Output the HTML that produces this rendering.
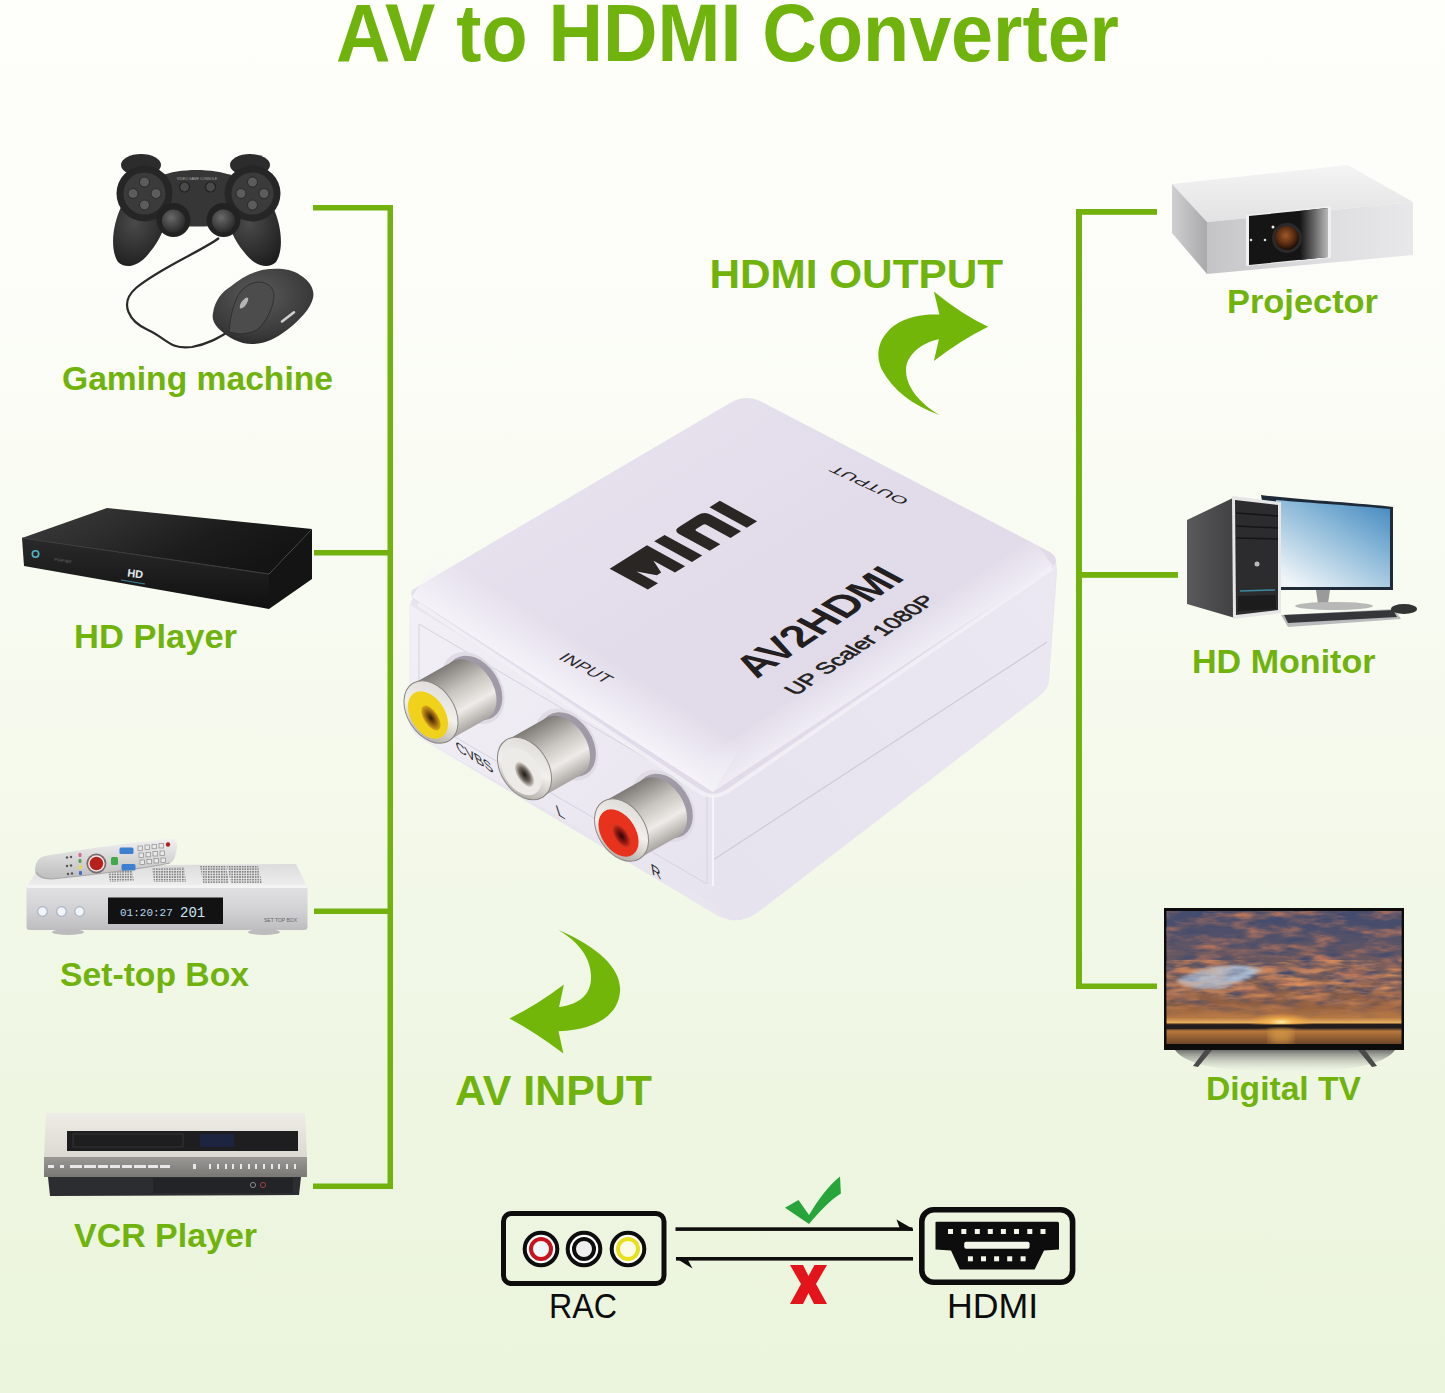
<!DOCTYPE html>
<html><head><meta charset="utf-8">
<style>
html,body{margin:0;padding:0;width:1445px;height:1393px;overflow:hidden;}
body{background:linear-gradient(to bottom,#fefffb 0px,#fcfdf8 300px,#f6faee 700px,#eef6e2 1100px,#ebf4dc 1393px);font-family:"Liberation Sans",sans-serif;}
svg{position:absolute;left:0;top:0;}
</style></head><body>
<svg width="1445" height="1393" viewBox="0 0 1445 1393">
<g id="brackets" fill="#73b20e">
  <rect x="313" y="205" width="80" height="5.5"/>
  <rect x="387.5" y="205" width="5.5" height="984"/>
  <rect x="314" y="550" width="79" height="5.5"/>
  <rect x="314" y="908.5" width="79" height="5.5"/>
  <rect x="313" y="1183.5" width="80" height="5.5"/>
  <rect x="1076" y="209" width="81" height="5.8"/>
  <rect x="1076" y="209" width="6" height="780"/>
  <rect x="1076" y="572" width="102" height="5.8"/>
  <rect x="1076" y="983.5" width="81" height="5.5"/>
</g>
<g id="labels" font-family="Liberation Sans" font-weight="bold" fill="#6fb30c">
  <text x="336" y="60.5" font-size="81" textLength="783" lengthAdjust="spacingAndGlyphs">AV to HDMI Converter</text>
  <text x="62" y="390" font-size="32.5" textLength="271" lengthAdjust="spacingAndGlyphs">Gaming machine</text>
  <text x="74" y="648" font-size="33" textLength="163" lengthAdjust="spacingAndGlyphs">HD Player</text>
  <text x="60" y="986" font-size="33" textLength="189" lengthAdjust="spacingAndGlyphs">Set-top Box</text>
  <text x="74" y="1246.5" font-size="33" textLength="183" lengthAdjust="spacingAndGlyphs">VCR Player</text>
  <text x="1227" y="313" font-size="32.5" textLength="151" lengthAdjust="spacingAndGlyphs">Projector</text>
  <text x="1192" y="672.5" font-size="33" textLength="183.5" lengthAdjust="spacingAndGlyphs">HD Monitor</text>
  <text x="1206" y="1099.5" font-size="33" textLength="155" lengthAdjust="spacingAndGlyphs">Digital TV</text>
  <text x="709.5" y="287.6" font-size="41" textLength="293.5" lengthAdjust="spacingAndGlyphs">HDMI OUTPUT</text>
  <text x="455" y="1105" font-size="42" textLength="197" lengthAdjust="spacingAndGlyphs">AV INPUT</text>
</g>

<g id="gamepad">
  <defs>
    <radialGradient id="gpGrip" cx="0.4" cy="0.3" r="0.8"><stop offset="0" stop-color="#4a4a4a"/><stop offset="1" stop-color="#1c1c1c"/></radialGradient>
    <radialGradient id="stick" cx="0.4" cy="0.35" r="0.7"><stop offset="0" stop-color="#6a6a6a"/><stop offset="1" stop-color="#262626"/></radialGradient>
  </defs>
  <!-- cable -->
  <path d="M219 238 C200 252 160 268 136 288 C118 304 130 322 148 330 C166 338 170 350 192 347 C208 344 218 338 228 332" fill="none" stroke="#2a2a2a" stroke-width="2.2"/>
  <!-- shoulders -->
  <ellipse cx="141" cy="165" rx="20" ry="11" fill="#2c2c2c"/>
  <ellipse cx="250" cy="165" rx="20" ry="11" fill="#2c2c2c"/>
  <!-- grips -->
  <path d="M122 205 C112 225 110 250 118 262 C126 270 140 266 150 252 C160 240 166 226 166 215 Z" fill="url(#gpGrip)"/>
  <path d="M272 205 C282 225 284 250 276 262 C268 270 254 266 244 252 C234 240 228 226 228 215 Z" fill="url(#gpGrip)"/>
  <!-- bridge -->
  <path d="M160 176 C180 168 212 168 234 176 L236 222 C222 228 172 228 158 222 Z" fill="#363636"/>
  <!-- clusters -->
  <circle cx="144.5" cy="193.5" r="28" fill="#262626"/>
  <circle cx="144.5" cy="193.5" r="21" fill="#3b3b3b"/>
  <circle cx="252.5" cy="193.5" r="28" fill="#262626"/>
  <circle cx="252.5" cy="193.5" r="21" fill="#3b3b3b"/>
  <g fill="#5c5c5c" stroke="#2a2a2a" stroke-width="1">
    <circle cx="144.5" cy="182" r="5"/><circle cx="144.5" cy="205" r="5"/><circle cx="133" cy="193.5" r="5"/><circle cx="156" cy="193.5" r="5"/>
    <circle cx="252.5" cy="182" r="5"/><circle cx="252.5" cy="205" r="5"/><circle cx="241" cy="193.5" r="5"/><circle cx="264" cy="193.5" r="5"/>
  </g>
  <g fill="#4a4a4a" stroke="#222" stroke-width="1.2"><circle cx="184.5" cy="187" r="5"/><circle cx="210.5" cy="187" r="5"/></g>
  <text x="197" y="180" font-size="3.5" fill="#aaa" text-anchor="middle" font-family="Liberation Sans">VIDEO GAME CONSOLE</text>
  <!-- sticks -->
  <circle cx="173.5" cy="220" r="17" fill="#222"/>
  <circle cx="173.5" cy="221" r="11.5" fill="url(#stick)"/>
  <circle cx="223.5" cy="220" r="17" fill="#222"/>
  <circle cx="223.5" cy="221" r="11.5" fill="url(#stick)"/>
  <!-- mouse -->
  <defs><radialGradient id="mouseG" cx="0.45" cy="0.35" r="0.75"><stop offset="0" stop-color="#5a5a5a"/><stop offset="0.7" stop-color="#3a3a3a"/><stop offset="1" stop-color="#222"/></radialGradient></defs>
  <path d="M213 313 C215 300 222 292 230 287 C240 279 250 273 262 270 C275 268 290 268 300 275 C310 281 315 290 313 298 C311 308 300 320 287 330 C275 339 265 344 252 344 C240 344 228 338 218 328 C213 322 212 318 213 313 Z" fill="url(#mouseG)"/>
  <path d="M229 332 C230 318 234 298 242 290 C248 284 254 282 260 282 C268 283 274 288 274 295 C274 305 268 318 261 326 C256 332 250 333 240 334 Z" fill="#4c4c4c" stroke="#2a2a2a" stroke-width="0.8"/>
  <ellipse cx="244" cy="303" rx="2.6" ry="6.5" transform="rotate(35 244 303)" fill="#b4b4b4"/>
  <path d="M282 321.5 L294 312.3" stroke="#d0d0d0" stroke-width="2.6" stroke-linecap="round"/>
</g>


<g id="hdplayer">
  <defs>
    <linearGradient id="hdTop" x1="0" y1="0" x2="1" y2="0.4"><stop offset="0" stop-color="#3c3c3c"/><stop offset="0.35" stop-color="#2e2e2e"/><stop offset="0.7" stop-color="#1c1c1c"/><stop offset="1" stop-color="#141414"/></linearGradient>
    <linearGradient id="hdFront" x1="0" y1="0" x2="0" y2="1"><stop offset="0" stop-color="#2a2a2a"/><stop offset="1" stop-color="#101010"/></linearGradient>
  </defs>
  <path d="M107 508 L312 529 L269 574 L22 538 Z" fill="url(#hdTop)"/>
  <path d="M22 538 L269 574 L269 609 L24 566 Z" fill="url(#hdFront)"/>
  <path d="M312 529 L312 579 L269 609 L269 574 Z" fill="#141414"/>
  <path d="M22 538 L269 574" stroke="#3a3a3a" stroke-width="1.2"/>
  <circle cx="35.5" cy="554" r="3.2" fill="none" stroke="#4fb8c8" stroke-width="1.6"/>
  <text x="127" y="576.5" font-size="11" font-weight="bold" fill="#e4ecee" font-family="Liberation Sans" transform="rotate(7 127 576)">HD</text>
  <path d="M121 580 L145 584" stroke="#3fa0b8" stroke-width="1.2" opacity="0.8"/>
  <text x="54" y="561" font-size="4.5" fill="#666" font-family="Liberation Sans" transform="rotate(8 54 561)">PIRPIEX</text>
</g>
<g id="settop">
  <defs>
    <linearGradient id="stFront" x1="0" y1="0" x2="0" y2="1"><stop offset="0" stop-color="#e2e2e4"/><stop offset="0.55" stop-color="#d2d2d4"/><stop offset="1" stop-color="#bdbdbf"/></linearGradient>
    <linearGradient id="stTop" x1="0" y1="0" x2="0" y2="1"><stop offset="0" stop-color="#dcdcdc"/><stop offset="1" stop-color="#eeeeee"/></linearGradient>
    <linearGradient id="remote" x1="0" y1="0" x2="0" y2="1"><stop offset="0" stop-color="#f0f0f0"/><stop offset="1" stop-color="#bdbdbd"/></linearGradient>
  </defs>
  <path d="M40 866 L296 864 L307 886 L27 886 Z" fill="url(#stTop)"/>
  <rect x="26.5" y="885" width="281" height="45" rx="3" fill="url(#stFront)"/>
  <rect x="26.5" y="885" width="281" height="3" fill="#f4f4f4"/>
  <ellipse cx="68" cy="932" rx="16" ry="3" fill="#bcbcbc"/>
  <ellipse cx="264" cy="932" rx="16" ry="3" fill="#bcbcbc"/>
  <rect x="108" y="897.5" width="115" height="26.5" fill="#121212"/>
  <text x="120" y="915.5" font-size="11" fill="#b9d8ef" font-family="Liberation Mono">01:20:27</text>
  <text x="180" y="917" font-size="14" fill="#cfe6f6" font-family="Liberation Mono">201</text>
  <g fill="#f2f4f8" stroke="#a8b4c4" stroke-width="1.2"><circle cx="42.5" cy="911.5" r="4.8"/><circle cx="61.5" cy="911.5" r="4.8"/><circle cx="79.5" cy="911.5" r="4.8"/></g>
  <text x="264" y="922" font-size="5" fill="#666" font-family="Liberation Sans">SET TOP BOX</text>
  <defs><pattern id="vent" width="2.6" height="2.6" patternUnits="userSpaceOnUse"><rect width="1.6" height="1.6" fill="#7a7a7a"/></pattern></defs>
  <path d="M108 871 L132 870 L134 881 L110 882 Z" fill="url(#vent)"/>
  <path d="M152 868 L184 867 L186 882 L154 882 Z" fill="url(#vent)"/>
  <path d="M200 866 L226 866 L229 883 L203 883 Z" fill="url(#vent)"/>
  <path d="M227 866 L258 866 L262 883 L231 883 Z" fill="url(#vent)"/>
  <path d="M35 869 C36 860 40 857 45 856 C80 850 130 842 172 839 C178 839 178 846 176 852 C175 858 174 861 170 863 C140 869 100 874 52 879 C40 880 35 876 35 869 Z" fill="url(#remote)"/>
  <path d="M36 872 C40 878 46 879 52 879 C100 874 140 869 170 863" fill="none" stroke="#a8a8a8" stroke-width="1.2"/>
  <circle cx="96.4" cy="863.5" r="10" fill="#7a6a6a"/>
  <circle cx="96.4" cy="863.5" r="8.3" fill="#f4e8e8"/>
  <circle cx="96.4" cy="863.5" r="6.8" fill="#b8201c"/>
  <rect x="111" y="857" width="7" height="8" rx="1.5" fill="#3faa4a"/>
  <rect x="119.5" y="847.5" width="14" height="6.5" rx="1.5" fill="#3f7fd0"/>
  <rect x="121.5" y="864" width="14" height="6.5" rx="1.5" fill="#3f7fd0"/>
  <g fill="#e8e8e8" stroke="#8a8a8a" stroke-width="0.7">
    <rect x="138" y="846" width="4.5" height="4.5"/><rect x="145" y="845" width="4.5" height="4.5"/><rect x="152" y="844.3" width="4.5" height="4.5"/><rect x="159" y="843.5" width="4.5" height="4.5"/>
    <rect x="139" y="853" width="4.5" height="4.5"/><rect x="146" y="852.3" width="4.5" height="4.5"/><rect x="153" y="851.5" width="4.5" height="4.5"/><rect x="160" y="851" width="4.5" height="4.5"/>
    <rect x="140" y="860" width="4.5" height="4.5"/><rect x="147" y="859.3" width="4.5" height="4.5"/><rect x="154" y="858.5" width="4.5" height="4.5"/><rect x="161" y="858" width="4.5" height="4.5"/>
  </g>
  <circle cx="168" cy="844.5" r="2.2" fill="#b02020"/>
  <g fill="#555"><circle cx="67" cy="857.5" r="1.2"/><circle cx="71" cy="857" r="1.2"/><circle cx="67" cy="866" r="1.2"/><circle cx="71" cy="865.5" r="1.2"/><circle cx="68" cy="874" r="1.2"/><circle cx="72" cy="873.5" r="1.2"/></g>
  <rect x="78.5" y="853" width="3" height="4" rx="1" fill="#d86a8a"/><rect x="78.5" y="859" width="3" height="4" rx="1" fill="#5aa05a"/><rect x="79" y="865" width="3" height="4" rx="1" fill="#e8d84a"/><rect x="79" y="871" width="3" height="4" rx="1" fill="#4a6ac0"/>
</g>
<g id="vcr">
  <defs>
    <linearGradient id="vcrTop" x1="0" y1="0" x2="0" y2="1"><stop offset="0" stop-color="#eeece6"/><stop offset="1" stop-color="#dcd9d2"/></linearGradient>
    <linearGradient id="vcrPanel" x1="0" y1="0" x2="0" y2="1"><stop offset="0" stop-color="#9a9894"/><stop offset="1" stop-color="#7a7874"/></linearGradient>
  </defs>
  <path d="M46 1113 L305 1113 L307 1157 L44 1157 Z" fill="url(#vcrTop)"/>
  <rect x="67" y="1131" width="231" height="20" fill="#1e1e20"/>
  <rect x="73" y="1134" width="110" height="13" fill="none" stroke="#3a3a3a" stroke-width="0.8"/>
  <rect x="200" y="1134" width="34" height="13" fill="#1c2440"/>
  <rect x="44" y="1157" width="263" height="20" fill="url(#vcrPanel)"/>
  <g fill="#e8e8e8"><rect x="48" y="1165" width="6" height="3"/><rect x="60" y="1165" width="4" height="3"/><rect x="70" y="1165" width="12" height="3"/><rect x="84" y="1165" width="12" height="3"/><rect x="98" y="1165" width="10" height="3"/><rect x="110" y="1165" width="10" height="3"/><rect x="122" y="1165" width="10" height="3"/><rect x="134" y="1165" width="12" height="3"/><rect x="148" y="1165" width="10" height="3"/><rect x="160" y="1165" width="10" height="3"/><rect x="193" y="1164" width="3" height="5"/>
  <rect x="209" y="1164" width="2" height="5"/><rect x="217" y="1164" width="2" height="5"/><rect x="225" y="1164" width="2" height="5"/><rect x="232" y="1164" width="2" height="5"/><rect x="240" y="1164" width="2" height="5"/><rect x="248" y="1164" width="2" height="5"/><rect x="255" y="1164" width="2" height="5"/><rect x="263" y="1164" width="2" height="5"/><rect x="271" y="1164" width="2" height="5"/><rect x="278" y="1164" width="2" height="5"/><rect x="286" y="1164" width="2" height="5"/><rect x="294" y="1164" width="2" height="5"/></g>
  <path d="M48 1177 L301 1177 L299 1195 L50 1196 Z" fill="#2b2d30"/>
  <rect x="153" y="1178" width="140" height="15" fill="#232427"/>
  <circle cx="253" cy="1185" r="2.6" fill="none" stroke="#8a8a8a" stroke-width="1"/><circle cx="263" cy="1185" r="2.6" fill="none" stroke="#a04040" stroke-width="1"/>
</g>
<g id="projector">
  <defs>
    <linearGradient id="prFront" x1="0" y1="0" x2="1" y2="0"><stop offset="0" stop-color="#c4c4c6"/><stop offset="0.5" stop-color="#dcdcde"/><stop offset="1" stop-color="#e8e8ea"/></linearGradient>
    <linearGradient id="prTop" x1="0" y1="0" x2="0" y2="1"><stop offset="0" stop-color="#f4f4f4"/><stop offset="1" stop-color="#e2e2e2"/></linearGradient>
    <linearGradient id="prSide" x1="0" y1="0" x2="1" y2="0"><stop offset="0" stop-color="#cfcfd1"/><stop offset="1" stop-color="#a9a9ab"/></linearGradient>
    <radialGradient id="lens" cx="0.45" cy="0.4" r="0.6"><stop offset="0" stop-color="#a0582a"/><stop offset="0.6" stop-color="#5a2c12"/><stop offset="1" stop-color="#1a0c06"/></radialGradient>
  </defs>
  <path d="M1172 184 L1348 165 L1413 202 L1207 222 Z" fill="url(#prTop)"/>
  <path d="M1172 184 L1207 222 L1207 274 L1172 233 Z" fill="url(#prSide)"/>
  <path d="M1207 222 L1413 202 L1413 255 L1207 274 Z" fill="url(#prFront)"/>
  <path d="M1246 215 L1331 206 L1331 258 L1246 266 Z" fill="#f0f0f0"/>
  <path d="M1249 216 L1328 208 L1328 257 L1249 265 Z" fill="#151515"/>
  <defs><linearGradient id="prWin" x1="0" y1="0" x2="1" y2="0"><stop offset="0" stop-color="#151515"/><stop offset="1" stop-color="#b8b8b8"/></linearGradient></defs><path d="M1300 211 L1328 208 L1328 257 L1300 260 Z" fill="url(#prWin)"/>
  <circle cx="1287" cy="238" r="15" fill="#2a2a2a"/>
  <circle cx="1287" cy="238" r="12" fill="url(#lens)"/>
  <circle cx="1273" cy="227" r="1.5" fill="#eee"/><circle cx="1265" cy="240" r="1.3" fill="#ddd"/><circle cx="1251" cy="240" r="1.3" fill="#ddd"/>
</g>
<g id="monitor">
  <defs>
    <linearGradient id="scr" x1="1" y1="0" x2="0.2" y2="1"><stop offset="0" stop-color="#3f86bf"/><stop offset="0.45" stop-color="#8dbad9"/><stop offset="1" stop-color="#eef4f8"/></linearGradient>
    <linearGradient id="tower" x1="0" y1="0" x2="1" y2="0"><stop offset="0" stop-color="#5a5a5c"/><stop offset="1" stop-color="#404042"/></linearGradient>
  </defs>
  <path d="M1261 495 C1300 500 1360 503 1393 507 L1393 590 L1278 590 Z" fill="#1e2a38"/>
  <path d="M1276 500 C1310 503 1360 506 1390 509 L1390 587 L1279 587 Z" fill="url(#scr)"/>
  <path d="M1316 590 L1330 590 L1328 604 L1318 604 Z" fill="#9a9a9a"/>
  <ellipse cx="1334" cy="606" rx="39" ry="4" fill="#b8b8b8"/>
  <path d="M1281 615 L1394 609 L1401 619 L1288 627 Z" fill="#b8babc"/>
  <path d="M1284 615 L1393 610 L1397 617 L1288 623 Z" fill="#34363a"/>
  <ellipse cx="1404" cy="609" rx="13" ry="5" fill="#333"/>
  <path d="M1187 520 L1235 497 L1235 618 L1187 604 Z" fill="url(#tower)"/>
  <path d="M1232 496 L1281 502 L1281 613 L1233 619 Z" fill="#e6e6e6"/>
  <path d="M1235 500 L1278 505 L1278 610 L1236 615 Z" fill="#2c2c2e"/>
  <path d="M1236 513 L1278 516 M1236 526 L1278 528 M1236 538 L1278 539" stroke="#151515" stroke-width="1.5"/>
  <circle cx="1257" cy="564" r="2.5" fill="#bbb"/>
  <path d="M1240 591 L1275 590" stroke="#3a8aa0" stroke-width="1.5"/>
  <path d="M1238 596 L1276 595 L1276 609 L1238 611 Z" fill="#1c1c1c"/>
</g>
<g id="tv">
  <defs>
    <linearGradient id="sky" x1="0" y1="0" x2="0" y2="1">
      <stop offset="0" stop-color="#3e4a70"/><stop offset="0.22" stop-color="#5a5468"/><stop offset="0.48" stop-color="#7a5c56"/><stop offset="0.72" stop-color="#94603e"/><stop offset="0.8" stop-color="#b87a44"/><stop offset="0.835" stop-color="#e8b060"/><stop offset="0.85" stop-color="#3a2a26"/><stop offset="0.875" stop-color="#2a2222"/><stop offset="0.9" stop-color="#b8783c"/><stop offset="1" stop-color="#6a4428"/>
    </linearGradient>
    <radialGradient id="sun" cx="0.5" cy="0.5" r="0.5"><stop offset="0" stop-color="#fff0b0"/><stop offset="0.35" stop-color="#f8b850" stop-opacity="0.85"/><stop offset="1" stop-color="#f0a040" stop-opacity="0"/></radialGradient>
    <linearGradient id="tvShadow" x1="0" y1="0" x2="0" y2="1"><stop offset="0" stop-color="#5a5a5a" stop-opacity="0.85"/><stop offset="1" stop-color="#cfd6c8" stop-opacity="0"/></linearGradient>
    <filter id="clouds" x="0" y="0" width="100%" height="100%" color-interpolation-filters="sRGB">
      <feTurbulence type="fractalNoise" baseFrequency="0.03 0.11" numOctaves="4" seed="7" result="n"/>
      <feColorMatrix in="n" type="matrix" values="0 0 0 0 0.72  0 0 0 0 0.46  0 0 0 0 0.36  2.5 0 0 0 -1.0"/>
      <feComposite in2="SourceGraphic" operator="in"/>
    </filter>
    <filter id="clouds2" x="0" y="0" width="100%" height="100%" color-interpolation-filters="sRGB">
      <feTurbulence type="fractalNoise" baseFrequency="0.04 0.14" numOctaves="3" seed="21" result="n"/>
      <feColorMatrix in="n" type="matrix" values="0 0 0 0 0.28  0 0 0 0 0.3  0 0 0 0 0.42  2.6 0 0 0 -1.05"/>
      <feComposite in2="SourceGraphic" operator="in"/>
    </filter>
    <filter id="clouds3" x="0" y="0" width="100%" height="100%" color-interpolation-filters="sRGB">
      <feTurbulence type="fractalNoise" baseFrequency="0.035 0.16" numOctaves="3" seed="11" result="n"/>
      <feColorMatrix in="n" type="matrix" values="0 0 0 0 0.86  0 0 0 0 0.56  0 0 0 0 0.36  2.4 0 0 0 -1.0"/>
      <feComposite in2="SourceGraphic" operator="in"/>
    </filter>
    <filter id="blur2"><feGaussianBlur stdDeviation="4"/></filter>
  </defs>
  <path d="M1175 1050 L1395 1050 Q1380 1072 1284 1072 Q1190 1072 1175 1050 Z" fill="url(#tvShadow)"/>
  <rect x="1164" y="908" width="240" height="142" fill="#0c0c0c"/>
  <rect x="1166.5" y="911" width="235" height="133.5" fill="url(#sky)"/>
  <defs>
    <linearGradient id="fadeG" x1="0" y1="0" x2="0" y2="1"><stop offset="0" stop-color="#fff"/><stop offset="0.7" stop-color="#fff"/><stop offset="1" stop-color="#000"/></linearGradient>
    <mask id="fadeM" maskUnits="userSpaceOnUse" x="1166" y="911" width="236" height="110"><rect x="1166" y="911" width="236" height="110" fill="url(#fadeG)"/></mask>
    <filter id="blur1"><feGaussianBlur stdDeviation="1.6"/></filter>
  </defs>
  <path d="M1176 981 C1192 966 1232 962 1266 969 C1252 976 1240 984 1226 988 C1205 991 1186 989 1176 981 Z" fill="#b0c4da" filter="url(#blur1)"/>
  <g mask="url(#fadeM)">
  <rect x="1166.5" y="911" width="235" height="110" fill="#fff" filter="url(#clouds)"/>
  <rect x="1166.5" y="911" width="235" height="110" fill="#fff" filter="url(#clouds2)"/>
  <rect x="1166.5" y="960" width="235" height="61" fill="#fff" filter="url(#clouds3)"/>
  </g>
  <path d="M1178 981 C1194 968 1230 964 1262 970 C1250 976 1238 983 1224 986 C1205 989 1188 988 1178 981 Z" fill="#b4c6da" opacity="0.6" filter="url(#blur1)"/>
  
  <ellipse cx="1281" cy="1022" rx="34" ry="9" fill="url(#sun)"/>
  <path d="M1166.5 1025 L1401.5 1024 L1401.5 1028 L1166.5 1029 Z" fill="#231c1c"/>
  <rect x="1270" y="1029" width="22" height="15" fill="#f0b050" opacity="0.55" filter="url(#blur2)"/>
  <rect x="1164" y="1044" width="240" height="6" fill="#0c0c0c"/>
  <path d="M1193 1066 L1205 1050 L1212 1050 L1198 1067 Z" fill="#4a4a4a"/>
  <path d="M1377 1066 L1365 1050 L1358 1050 L1372 1067 Z" fill="#4a4a4a"/>
</g>
<g id="converter">
  <defs>
    <linearGradient id="cvTop" x1="0" y1="0" x2="1" y2="1"><stop offset="0" stop-color="#e9e5f0"/><stop offset="0.5" stop-color="#e2dcea"/><stop offset="1" stop-color="#e0dae8"/></linearGradient>
    <linearGradient id="cvFront" x1="0" y1="0" x2="1" y2="1"><stop offset="0" stop-color="#f2f0f6"/><stop offset="1" stop-color="#e6e2ee"/></linearGradient>
    <linearGradient id="cvRight" x1="0" y1="1" x2="1" y2="0"><stop offset="0" stop-color="#e6e2ee"/><stop offset="1" stop-color="#ebe8f2"/></linearGradient>
    <linearGradient id="metal" x1="0" y1="0" x2="1" y2="1"><stop offset="0" stop-color="#b0aca8"/><stop offset="0.3" stop-color="#eceae6"/><stop offset="0.55" stop-color="#c4c0bc"/><stop offset="1" stop-color="#8a8680"/></linearGradient>
    <linearGradient id="ringM" x1="0" y1="0" x2="1" y2="1"><stop offset="0" stop-color="#d8d6d2"/><stop offset="0.5" stop-color="#f2f0ec"/><stop offset="1" stop-color="#9c9892"/></linearGradient>
    <radialGradient id="holeY" cx="0.5" cy="0.5" r="0.5"><stop offset="0" stop-color="#2a1a08"/><stop offset="0.5" stop-color="#8a5a10"/><stop offset="1" stop-color="#d8a818"/></radialGradient>
    <radialGradient id="holeW" cx="0.5" cy="0.5" r="0.5"><stop offset="0" stop-color="#1e1a18"/><stop offset="0.55" stop-color="#6a625a"/><stop offset="1" stop-color="#d8d4cc"/></radialGradient>
    <radialGradient id="holeR" cx="0.5" cy="0.5" r="0.5"><stop offset="0" stop-color="#2a0806"/><stop offset="0.55" stop-color="#901810"/><stop offset="1" stop-color="#e43a22"/></radialGradient>
  </defs>
  <!-- silhouette base -->
  <path d="M409 612 Q409 597 424 588 L730 404 Q745 395 760 403 L1045 551 Q1058 558 1057 572 L1049 680 Q1048 690 1038 697 L758 912 Q738 926 718 916 L420 738 Q409 731 409 718 Z" fill="#e8e5ef"/>
  <!-- front face -->
  <path d="M409 604 L713 792 L713 886 Q720 912 742 920 L420 738 Q409 731 409 718 Z" fill="url(#cvFront)"/>
  <path d="M419 624 L707 794 L707 884 L419 716 Z" fill="none" stroke="#d6d2de" stroke-width="1"/>
  <!-- right face -->
  <path d="M713 795 L1056 563 L1049 680 Q1048 690 1038 697 L758 912 Q738 926 722 916 Q713 905 713 886 Z" fill="url(#cvRight)"/>
  <path d="M713 860 L1047 642" stroke="#cfcbd8" stroke-width="1.2" fill="none"/>
  <path d="M713 795 L713 886" stroke="#f6f4fa" stroke-width="2" fill="none"/>
  <!-- top face -->
  <path d="M412 590 Q409 600 420 605 L695 790 Q713 800 730 790 L1050 570 Q1062 560 1050 552 L760 401 Q745 394 730 403 Z" fill="url(#cvTop)"/>
  <defs><linearGradient id="hlBand" gradientUnits="userSpaceOnUse" x1="575" y1="703" x2="604" y2="657"><stop offset="0" stop-color="#f6f4fa" stop-opacity="0.95"/><stop offset="1" stop-color="#f6f4fa" stop-opacity="0"/></linearGradient>
  <linearGradient id="hlBand2" gradientUnits="userSpaceOnUse" x1="880" y1="680" x2="860" y2="650"><stop offset="0" stop-color="#f2f0f7" stop-opacity="0.8"/><stop offset="1" stop-color="#f2f0f7" stop-opacity="0"/></linearGradient></defs>
  <path d="M412 597 L713 792 L742 745 L440 552 Z" fill="url(#hlBand)"/>
  <path d="M713 792 L1053 566 L1032 538 L690 768 Z" fill="url(#hlBand2)"/>
  <path d="M418 604 L700 792 Q713 800 728 791 L1052 568" fill="none" stroke="#f4f2f8" stroke-width="4" opacity="0.8"/>
  <!-- front labels -->
  <g font-family="Liberation Sans" fill="#2a2a2a">
    <g transform="matrix(0.883 0.469 -0.839 0.545 557.5 658.5)"><text x="0" y="0" font-size="16.5" textLength="54" lengthAdjust="spacingAndGlyphs">INPUT</text></g>
    <g transform="matrix(0.848 0.530 0.342 0.940 458 751)"><text x="0" y="0" font-size="16.5" textLength="43" lengthAdjust="spacingAndGlyphs">CVBS</text></g>
    <g transform="matrix(0.848 0.530 0.30 0.954 558 815)"><text x="0" y="0" font-size="16.5">L</text></g>
    <g transform="matrix(0.848 0.530 0.17 0.985 652 874)"><text x="0" y="0" font-size="16">R</text></g>
  </g>
  <!-- jacks -->
  <g id="jacks">
    <ellipse cx="473.0" cy="688.0" rx="39" ry="28" transform="rotate(57 473.0 688.0)" fill="#e0dce6"/>
    <ellipse cx="474.0" cy="688.0" rx="35" ry="25" transform="rotate(57 474.0 688.0)" fill="#6a6470" opacity="0.55"/>
    <defs><linearGradient id="brl1" gradientUnits="userSpaceOnUse" x1="448.4" y1="740.6" x2="415.5" y2="682.3"><stop offset="0" stop-color="#a8a4a0"/><stop offset="0.3" stop-color="#eeece8"/><stop offset="0.6" stop-color="#c8c4c0"/><stop offset="1" stop-color="#7e7a76"/></linearGradient></defs>
    <path d="M451.75 661.90 A33.5 23.0 57 1 0 488.25 718.10 A33.5 23.0 57 1 0 451.75 661.90 Z" fill="url(#brl1)"/>
    <path d="M448.4 740.6 L487.4 718.6 L452.6 661.4 L413.6 683.4 Z" fill="url(#brl1)"/>
    <ellipse cx="431" cy="712" rx="34.0" ry="23.5" transform="rotate(57 431 712)" fill="url(#ringM)" stroke="#8c8884" stroke-width="1"/>
    <ellipse cx="428" cy="715" rx="26" ry="17" transform="rotate(57 428 715)" fill="#f0d21a"/>
    <ellipse cx="431" cy="718" rx="14" ry="7" transform="rotate(57 431 718)" fill="url(#holeY)"/>
    <ellipse cx="566.5" cy="744.5" rx="39" ry="28" transform="rotate(57 566.5 744.5)" fill="#e0dce6"/>
    <ellipse cx="567.5" cy="744.5" rx="35" ry="25" transform="rotate(57 567.5 744.5)" fill="#6a6470" opacity="0.55"/>
    <defs><linearGradient id="brl2" gradientUnits="userSpaceOnUse" x1="541.9" y1="797.1" x2="509.0" y2="738.8"><stop offset="0" stop-color="#a8a4a0"/><stop offset="0.3" stop-color="#eeece8"/><stop offset="0.6" stop-color="#c8c4c0"/><stop offset="1" stop-color="#7e7a76"/></linearGradient></defs>
    <path d="M545.25 718.40 A33.5 23.0 57 1 0 581.75 774.60 A33.5 23.0 57 1 0 545.25 718.40 Z" fill="url(#brl2)"/>
    <path d="M541.9 797.1 L580.9 775.1 L546.1 717.9 L507.1 739.9 Z" fill="url(#brl2)"/>
    <ellipse cx="524.5" cy="768.5" rx="34.0" ry="23.5" transform="rotate(57 524.5 768.5)" fill="url(#ringM)" stroke="#8c8884" stroke-width="1"/>
    <ellipse cx="521.5" cy="771.5" rx="26" ry="17" transform="rotate(57 521.5 771.5)" fill="#ecebe8"/>
    <ellipse cx="524.5" cy="774.5" rx="14" ry="7" transform="rotate(57 524.5 774.5)" fill="url(#holeW)"/>
    <ellipse cx="663.5" cy="806.0" rx="39" ry="28" transform="rotate(57 663.5 806.0)" fill="#e0dce6"/>
    <ellipse cx="664.5" cy="806.0" rx="35" ry="25" transform="rotate(57 664.5 806.0)" fill="#6a6470" opacity="0.55"/>
    <defs><linearGradient id="brl3" gradientUnits="userSpaceOnUse" x1="638.9" y1="858.6" x2="606.0" y2="800.3"><stop offset="0" stop-color="#a8a4a0"/><stop offset="0.3" stop-color="#eeece8"/><stop offset="0.6" stop-color="#c8c4c0"/><stop offset="1" stop-color="#7e7a76"/></linearGradient></defs>
    <path d="M642.25 779.90 A33.5 23.0 57 1 0 678.75 836.10 A33.5 23.0 57 1 0 642.25 779.90 Z" fill="url(#brl3)"/>
    <path d="M638.9 858.6 L677.9 836.6 L643.1 779.4 L604.1 801.4 Z" fill="url(#brl3)"/>
    <ellipse cx="621.5" cy="830" rx="34.0" ry="23.5" transform="rotate(57 621.5 830)" fill="url(#ringM)" stroke="#8c8884" stroke-width="1"/>
    <ellipse cx="618.5" cy="833" rx="26" ry="17" transform="rotate(57 618.5 833)" fill="#e8321e"/>
    <ellipse cx="621.5" cy="836" rx="14" ry="7" transform="rotate(57 621.5 836)" fill="url(#holeR)"/>
  </g>
  <!-- top text -->
  <g font-family="Liberation Sans" font-weight="bold" fill="#231f20">
    <g transform="matrix(0.848 -0.530 0.877 0.480 608.8 568.2)" fill="#2a2624">
      <path d="M0 1 L44 1 L44 44.5 L32 44.5 L32 20 L24.5 36 L19.5 36 L12 20 L12 44.5 L0 44.5 Z"/>
      <rect x="52" y="1.5" width="12.2" height="43"/>
      <path d="M73 44.5 L73 10 Q73 2.5 81 2.5 L102 2.5 Q110 2.5 110 10 L110 44.5 L97.5 44.5 L97.5 17 Q97.5 15 95.5 15 L87.5 15 Q85.5 15 85.5 17 L85.5 44.5 Z"/>
      <rect x="116.7" y="2" width="12.2" height="42.5"/>
    </g>
    <g transform="matrix(0.829 -0.559 0.883 0.469 757 679)"><text x="0" y="0" font-size="43" textLength="180" lengthAdjust="spacingAndGlyphs">AV2HDMI</text></g>
    <g transform="matrix(0.829 -0.559 0.883 0.469 796 696)"><text x="0" y="0" font-size="22" font-weight="normal" stroke="#231f20" stroke-width="0.7" textLength="170" lengthAdjust="spacingAndGlyphs">UP Scaler 1080P</text></g>
    <g transform="matrix(-0.906 -0.423 0.829 -0.559 910 500)"><text x="0" y="0" font-size="13.5" font-weight="normal" textLength="82" lengthAdjust="spacingAndGlyphs">OUTPUT</text></g>
  </g>
</g>

<!-- curved arrows -->
<path fill="#72b60a" d="M939.4 314.6 L933.9 291.5 Q961 314 988.1 326.7 Q961 340 933.9 360.9 L938.9 339.2 C920 343 906 356 906 370 C906 386 918 402 939.4 415.1 C912 405 893 390 882 370 C874 352 880 336 895 325 C908 316 925 314 939.4 314.6 Z"/>
<path fill="#72b60a" d="M558.5 930.1 C600 948 622 970 620 992 C618 1015 596 1030 558.5 1031.3 L563.4 1053.4 Q535 1032 509.5 1018.4 Q537 1005 563.9 984.5 L559.1 1007.1 C580 1004 592 994 591 975 C590 958 580 943 558.5 930.1 Z"/>
<!-- bottom diagram -->
<g id="diagram">
  <rect x="503.5" y="1213.5" width="160.5" height="70" rx="8" fill="none" stroke="#0d0d0d" stroke-width="5"/>
  <circle cx="541" cy="1249" r="16.3" fill="#fff" stroke="#0d0d0d" stroke-width="4"/>
  <circle cx="541" cy="1249" r="10" fill="#eef8fb" stroke="#c8141e" stroke-width="4"/>
  <circle cx="584" cy="1249" r="16.3" fill="#fff" stroke="#0d0d0d" stroke-width="4"/>
  <circle cx="584" cy="1249" r="10" fill="#eee" stroke="#0d0d0d" stroke-width="4"/>
  <circle cx="628" cy="1249" r="16.3" fill="#fff" stroke="#0d0d0d" stroke-width="4"/>
  <circle cx="628" cy="1249" r="10" fill="#fbfbe8" stroke="#e8e01e" stroke-width="4"/>
  <rect x="675.5" y="1227.3" width="237" height="3.6" fill="#0d0d0d"/>
  <path d="M896.5 1219.5 L913 1229 L913 1231 L900 1229 Z" fill="#0d0d0d"/>
  <rect x="676" y="1257" width="237" height="3.6" fill="#0d0d0d"/>
  <path d="M675.5 1258 L692.5 1268.6 L688 1260 Z" fill="#0d0d0d"/>
  <path d="M785 1207.8 L798.5 1200 L809 1215 C818 1200 829 1185 840 1176.5 L840.9 1193.4 C830 1200 820 1211 809 1224 Z" fill="#27a53b"/>
  <path d="M790 1265 L803 1265 L808.5 1276 L814.5 1265 L827 1265 L816 1284 L827 1304 L814 1304 L808.5 1293 L803 1304 L790 1304 L801 1284 Z" fill="#e3141b"/>
  <rect x="921.8" y="1209.8" width="150.8" height="72.5" rx="12" fill="none" stroke="#0d0d0d" stroke-width="5.6"/>
  <path d="M935.5 1222 Q935.5 1221.8 937 1221.8 L1057.5 1221.8 Q1059 1221.8 1059 1223.5 L1059 1249.5 L1044 1250.5 L1034.6 1269.5 L959.8 1269.5 L951 1250.5 L935.5 1249.5 Z" fill="#0d0d0d"/>
  <g fill="#f4f6ea">
    <rect x="948" y="1229" width="5" height="5"/><rect x="961.3" y="1229" width="5" height="5"/><rect x="974.8" y="1229" width="5" height="5"/><rect x="987.8" y="1229" width="5" height="5"/><rect x="1000.9" y="1229" width="5" height="5"/><rect x="1014" y="1229" width="5" height="5"/><rect x="1027.3" y="1229" width="5" height="5"/><rect x="1040.5" y="1229" width="5" height="5"/>
    <rect x="964.2" y="1241.7" width="65.4" height="7" rx="2"/>
    <rect x="967.9" y="1256.3" width="5" height="5"/><rect x="981" y="1256.3" width="5" height="5"/><rect x="994.1" y="1256.3" width="5" height="5"/><rect x="1007.2" y="1256.3" width="5" height="5"/><rect x="1020.6" y="1256.3" width="5" height="5"/>
  </g>
  <g font-family="Liberation Sans" fill="#0d0d0d">
    <text x="549" y="1318" font-size="35" textLength="68" lengthAdjust="spacingAndGlyphs">RAC</text>
    <text x="947" y="1317.7" font-size="35" textLength="91.3" lengthAdjust="spacingAndGlyphs">HDMI</text>
  </g>
</g>
</svg>
</body></html>
